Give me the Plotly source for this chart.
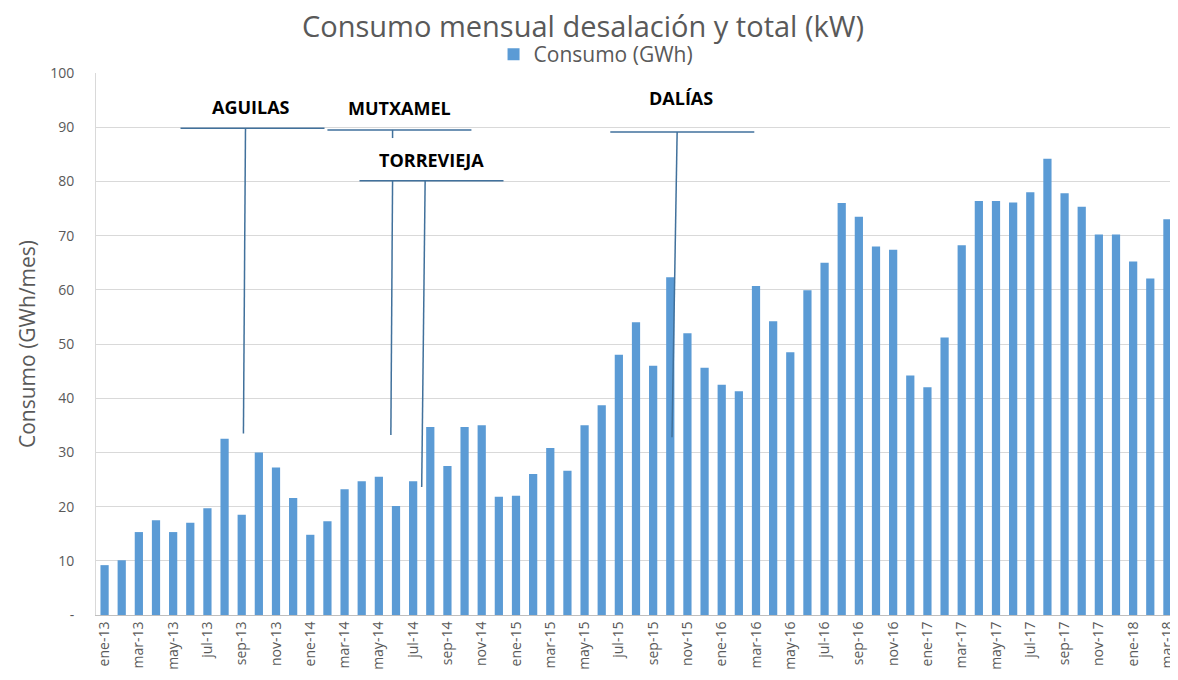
import plotly.graph_objects as go

months = ["ene", "feb", "mar", "abr", "may", "jun", "jul", "ago", "sep", "oct", "nov", "dic"]
categories = [f"{m}-{y}" for y in ["13", "14", "15", "16", "17"] for m in months] + ["ene-18", "feb-18", "mar-18"]

consumo = [
    9.2, 10.1, 15.3, 17.5, 15.3, 17.0, 19.7, 32.5, 18.5, 30.0, 27.2, 21.6,
    14.8, 17.3, 23.2, 24.7, 25.5, 20.1, 24.7, 34.7, 27.5, 34.7, 35.0, 21.8,
    22.0, 26.0, 30.8, 26.6, 35.0, 38.7, 48.0, 54.0, 46.0, 62.3, 52.0, 45.6,
    42.5, 41.3, 60.7, 54.2, 48.5, 59.9, 65.0, 76.0, 73.5, 68.0, 67.4, 44.2,
    42.0, 51.2, 68.2, 76.4, 76.4, 76.1, 78.0, 84.2, 77.8, 75.3, 70.2, 70.2,
    65.2, 62.1, 73.0,
]

tick_labels = categories[::2]
y_ticks = [0, 10, 20, 30, 40, 50, 60, 70, 80, 90, 100]
y_tick_text = ["-", "10", "20", "30", "40", "50", "60", "70", "80", "90", "100"]

# Plant labels
plant_names = ["AGUILAS", "MUTXAMEL", "TORREVIEJA", "DALÍAS"]
plant_label_x = [8.57, 17.2, 19.07, 33.6]
plant_label_y = [93.7, 93.5, 84.0, 95.4]

FONT = "Open Sans, Lato, sans-serif"
GRAY = "#595959"
BLUE = "#5B9BD5"
LINE = "#41719C"

fig = go.Figure()
fig.add_trace(go.Bar(
    x=categories, y=consumo, name="Consumo (GWh)",
    marker=dict(color=BLUE, line=dict(width=0)),
))

shapes = []
def seg(x0, y0, x1, y1, w=1.5):
    shapes.append(dict(type="line", xref="x", yref="y", x0=x0, y0=y0, x1=x1, y1=y1,
                       line=dict(color=LINE, width=w)))

# AGUILAS
seg(4.43, 89.8, 12.83, 89.8)
seg(8.22, 89.8, 8.1, 33.5)
# MUTXAMEL
seg(13.0, 89.5, 21.4, 89.5)
seg(16.8, 89.5, 16.8, 88.0)
# TORREVIEJA
seg(14.87, 80.1, 23.27, 80.1)
seg(16.8, 80.1, 16.7, 33.2)
seg(18.7, 80.1, 18.5, 23.6)
# DALÍAS
seg(29.5, 89.1, 37.9, 89.1)
seg(33.4, 89.1, 33.1, 32.8)

annotations = []
for name, ax, ay in zip(plant_names, plant_label_x, plant_label_y):
    annotations.append(dict(x=ax, y=ay, xref="x", yref="y", text=f"<b>{name}</b>",
                            showarrow=False, font=dict(family=FONT, size=18, color="#000000")))

# page body has an 8px margin: figure is 1170x672 placed at (8, 8)
fig.update_layout(
    width=1170, height=672,
    margin=dict(l=88, r=2, t=65, b=65),
    paper_bgcolor="white", plot_bgcolor="white",
    font=dict(family=FONT, color=GRAY),
    title=dict(text="Consumo mensual desalación y total (kW)", x=0.4915, xanchor="center",
               y=1 - 19 / 672, yanchor="middle", yref="container",
               font=dict(family=FONT, size=29, color=GRAY)),
    showlegend=True,
    legend=dict(orientation="h", x=0.463, xanchor="center", y=1.034, yanchor="middle",
                font=dict(family=FONT, size=21, color=GRAY), itemwidth=30,
                bgcolor="rgba(0,0,0,0)"),
    bargap=0.52,
    shapes=shapes,
    annotations=annotations,
)

fig.update_xaxes(
    type="category", range=[-0.5, 62.5], automargin=False,
    tickmode="array", tickvals=tick_labels, ticktext=tick_labels,
    tickangle=-90, tickfont=dict(family=FONT, size=14, color=GRAY),
    showgrid=False, showline=True, linecolor="#BFBFBF", linewidth=1,
    ticks="", fixedrange=True,
)
fig.update_yaxes(
    range=[0, 100], automargin=False, tickmode="array", tickvals=y_ticks, ticktext=y_tick_text,
    tickfont=dict(family=FONT, size=14, color=GRAY),
    showgrid=True, gridcolor="#D9D9D9", gridwidth=1,
    showline=True, linecolor="#D9D9D9", zeroline=False,
    ticks="outside", ticklen=18, tickcolor="white",
    title=dict(text="Consumo (GWh/mes)", font=dict(family=FONT, size=21, color=GRAY), standoff=8),
)

fig.write_html("out.html")
